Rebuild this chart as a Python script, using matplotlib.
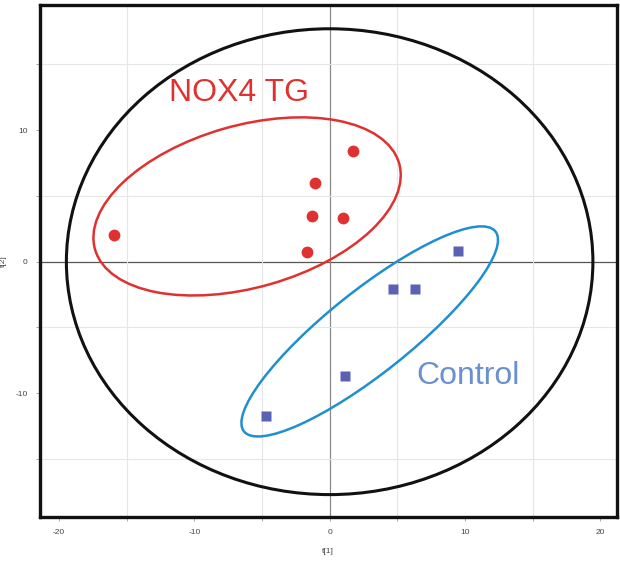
import numpy as np
import matplotlib
matplotlib.use("Agg")
import matplotlib.pyplot as plt
from matplotlib.patches import Ellipse

# scores
tg_t1 = [-15.9, 1.7, -1.1, -1.3, 1.0, -1.7]
tg_t2 = [2.0, 8.4, 6.0, 3.5, 3.3, 0.7]
ctrl_t1 = [9.5, 4.7, 6.3, 1.1, -4.7]
ctrl_t2 = [0.8, -2.1, -2.1, -8.7, -11.7]

xticks = [-20, -10, 0, 10, 20]
yticks = [-10, 0, 10]

plt.rcParams['font.family'] = ['Liberation Sans', 'DejaVu Sans']

fig = plt.figure(figsize=(6.2, 5.65), dpi=100)
ax = fig.add_axes([0.0645, 0.085, 0.93, 0.906])

ax.set_xlim(-21.4, 21.2)
ax.set_ylim(-19.4, 19.5)

# grid every 5 units
ax.set_xticks(np.arange(-20, 21, 5), minor=True)
ax.set_yticks(np.arange(-15, 16, 5), minor=True)
ax.grid(True, which='minor', color='#e6e6e6', lw=0.8, zorder=0)
ax.set_xticks(xticks)
ax.set_yticks(yticks)
ax.set_xticklabels([str(v) for v in xticks])
ax.set_yticklabels([str(v) for v in yticks])
ax.tick_params(which='both', length=3, width=0.6, color='#999999',
               labelsize=6, labelcolor='#444444', pad=6)

ax.axhline(0, color='#555555', lw=0.9, zorder=1)
ax.axvline(0, color='#888888', lw=0.9, zorder=1)

for s in ax.spines.values():
    s.set_linewidth(2.4)
    s.set_color('#111111')

# Hotelling T2 ellipse
ax.add_patch(Ellipse((0, 0), 38.9, 35.4, fill=False, ec='#111111', lw=2.2, zorder=2))
# group ellipses
ax.add_patch(Ellipse((-6.1, 4.2), 23.4, 12.3, angle=16.5, fill=False,
                     ec='#e03131', lw=1.8, zorder=2))
ax.add_patch(Ellipse((2.96, -5.3), 24.0, 6.2, angle=39.4, fill=False,
                     ec='#1f8fd0', lw=1.8, zorder=2))

ax.plot(tg_t1, tg_t2, 'o', color='#e03131', ms=8.5, mec='none', zorder=3)
ax.plot(ctrl_t1, ctrl_t2, 's', color='#5b62b3', ms=6.8, mec='none', zorder=3)

ax.text(-6.7, 12.8, 'NOX4 TG', color='#e03131', fontsize=23, ha='center', va='center')
ax.text(10.2, -8.7, 'Control', color='#6a90d0', fontsize=23, ha='center', va='center')

ax.set_xlabel('t[1]', fontsize=6, color='#444444', labelpad=8)
ax.set_ylabel('t[2]', fontsize=6, color='#444444', labelpad=6)

fig.savefig('out.png', dpi=100)
